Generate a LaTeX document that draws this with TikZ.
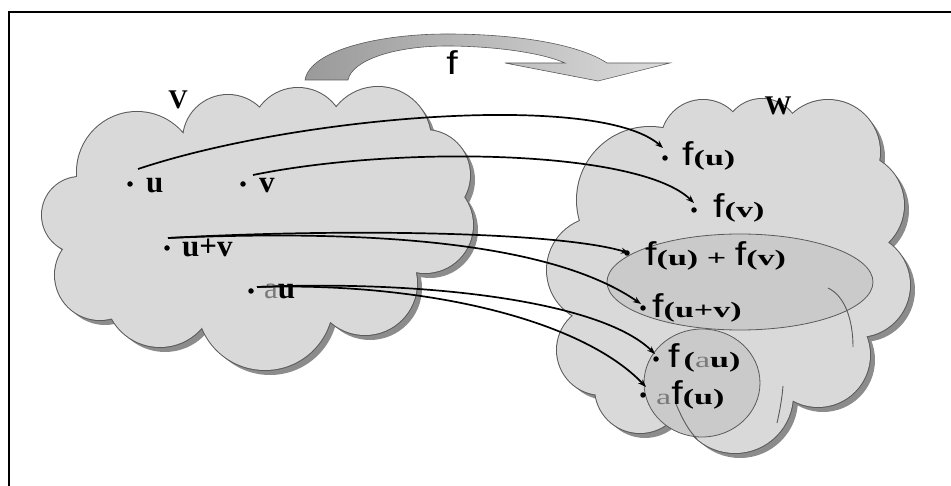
\documentclass[tikz,border=0pt]{standalone}
\usepackage{fontspec}
\usepackage{graphicx}
\setmainfont{Liberation Serif}
\setsansfont{Liberation Sans}
\usetikzlibrary{arrows.meta}
\definecolor{cloudfill}{HTML}{D9D9D9}
\definecolor{cloudline}{HTML}{5A5A5A}
\definecolor{cloudshadow}{HTML}{8C8C8C}
\definecolor{setfill}{HTML}{CACACA}
\definecolor{lightA}{HTML}{7A7A7A}
\definecolor{arrowdark}{HTML}{9A9A9A}
\definecolor{arrowlight}{HTML}{DCDCDC}
\newcommand\ff{\scalebox{1.25}[1]{\sffamily\mdseries\fontsize{33}{33}\selectfont f}}
\newcommand\pp[1]{\scalebox{1.55}[1]{\bfseries\fontsize{22}{22}\selectfont #1}}
\newcommand\pa{{\mdseries\color{lightA}a}}
\def\Vlist{137/172/60, 80/215/38, 228/140/45, 298/135/47, 378/140/53, 425/175/45, 425/225/48, 365/283/52, 265/302/68, 160/292/55, 100/275/45, 250/220/90, 340/215/80, 150/225/65}
\def\Wlist{600/270/53, 602/350/45, 640/388/45, 735/395/58, 818/355/52, 858/285/52, 852/205/52, 828/152/52, 762/137/38, 703/142/42, 650/200/73, 730/280/110, 770/220/90, 680/340/60}
\tikzset{
  vlab/.style={anchor=base west, inner sep=0pt, font=\bfseries\fontsize{31}{31}\selectfont},
  wlab/.style={anchor=base west, inner sep=0pt},
  dotn/.style={circle, fill=black, inner sep=0pt, minimum size=5.5pt},
  conn/.style={line width=1.7pt, -{Stealth[length=8pt,width=6pt]}},
  setshape/.style={fill=setfill, draw=cloudline, line width=0.8pt},
  lobe/.style={draw=cloudline, line width=0.9pt},
}
\begin{document}
\begin{tikzpicture}[x=1pt,y=-1pt]
\useasboundingbox (0,0) rectangle (951,486);
\fill[white] (0,0) rectangle (951,486);
% frame
\draw[line width=1.2pt] (9,486) -- (9,12) -- (951,12);
% big arrow f
\shadedraw[left color=arrowdark, right color=arrowlight, draw=cloudline, line width=0.6pt]
  (305,80) .. controls (310,50) and (380,34) .. (447,34)
  .. controls (520,34) and (580,45) .. (607,63) -- (670,63) -- (598,81) -- (505,63) -- (565,63)
  .. controls (540,52) and (490,46) .. (447,46)
  .. controls (395,46) and (352,60) .. (348,80) -- cycle;
\node[anchor=base, inner sep=0pt] (lf) at (452,75) {\ff};
% cloud V
\fill[cloudshadow] \foreach \x/\y/\r in \Vlist {(\x+5,\y+5) circle[radius=\r]};
\draw[cloudline, line width=2pt] \foreach \x/\y/\r in \Vlist {(\x,\y) circle[radius=\r]};
\fill[cloudfill] \foreach \x/\y/\r in \Vlist {(\x,\y) circle[radius=\r]};
% cloud W
\fill[cloudshadow] \foreach \x/\y/\r in \Wlist {(\x+5,\y+5) circle[radius=\r]};
\draw[cloudline, line width=2pt] \foreach \x/\y/\r in \Wlist {(\x,\y) circle[radius=\r]};
\fill[cloudfill] \foreach \x/\y/\r in \Wlist {(\x,\y) circle[radius=\r]};
% sets inside W
\path[setshape] (740,282) ellipse[x radius=133, y radius=48];
\path[setshape] (702,383) ellipse[x radius=58, y radius=54];
% inner lobe lines of W
\draw[lobe] (828,288) .. controls (845,296) and (853,320) .. (853,347);
\draw[lobe] (676,404) .. controls (682,418) and (688,430) .. (697,439);
\draw[lobe] (783,386) .. controls (782,398) and (780,410) .. (777,423);
% names of spaces
\node[font=\bfseries\fontsize{27}{27}\selectfont, inner sep=0pt] (lV) at (178,100) {V};
\node[font=\bfseries\fontsize{27}{27}\selectfont, inner sep=0pt] (lW) at (778,106) {W};
% points of V
\node[dotn] (du) at (130,184) {};
\node[vlab] (tu) at (146,193) {u};
\node[dotn] (dv) at (243,184) {};
\node[vlab] (tv) at (259,193) {v};
\node[dotn] (duv) at (167,248) {};
\node[vlab] (tuv) at (182,257) {u+v};
\node[dotn] (dau) at (251,291) {};
\node[vlab] (tau) at (264,299) {\pa u};
% points of W
\node[dotn] (dfu) at (665,158) {};
\node[wlab] (tfu) at (682,166) {\ff\pp{(u)}};
\node[dotn] (dfv) at (694,210) {};
\node[wlab] (tfv) at (713,218) {\ff\pp{(v)}};
\node[dotn] (dsum) at (627,253) {};
\node[wlab] (tsum) at (645,266) {\ff\pp{(u) + }\ff\pp{(v)}};
\node[dotn] (dfuv) at (643,308) {};
\node[wlab] (tfuv) at (652,318) {\ff\pp{(u+v)}};
\node[dotn] (dfau) at (656,359) {};
\node[wlab] (tfau) at (668,368) {\ff\hspace{4pt}\pp{(\pa u)}};
\node[dotn] (dafu) at (643,395) {};
\node[wlab] (tafu) at (656,405) {\pp{\pa}\ff\pp{(u)}};
% connector ends
\coordinate (su) at (138,169);
\coordinate (sv) at (253,175);
\coordinate (suv) at (168,238);
\coordinate (sau) at (257,287);
\coordinate (eu) at (663,148);
\coordinate (ev) at (694,203);
\coordinate (esum) at (629,253);
\coordinate (euv) at (641,304);
\coordinate (eau) at (655,354);
\coordinate (eafu) at (646,387);
\draw[conn] (su) .. controls (300,115) and (600,92) .. (eu);
\draw[conn] (sv) .. controls (400,145) and (640,150) .. (ev);
\draw[conn] (suv) .. controls (350,228) and (560,232) .. (esum);
\draw[conn] (suv) .. controls (400,228) and (560,248) .. (euv);
\draw[conn] (sau) .. controls (420,280) and (600,300) .. (eau);
\draw[conn] (sau) .. controls (420,282) and (580,318) .. (eafu);
\end{tikzpicture}
\end{document}
